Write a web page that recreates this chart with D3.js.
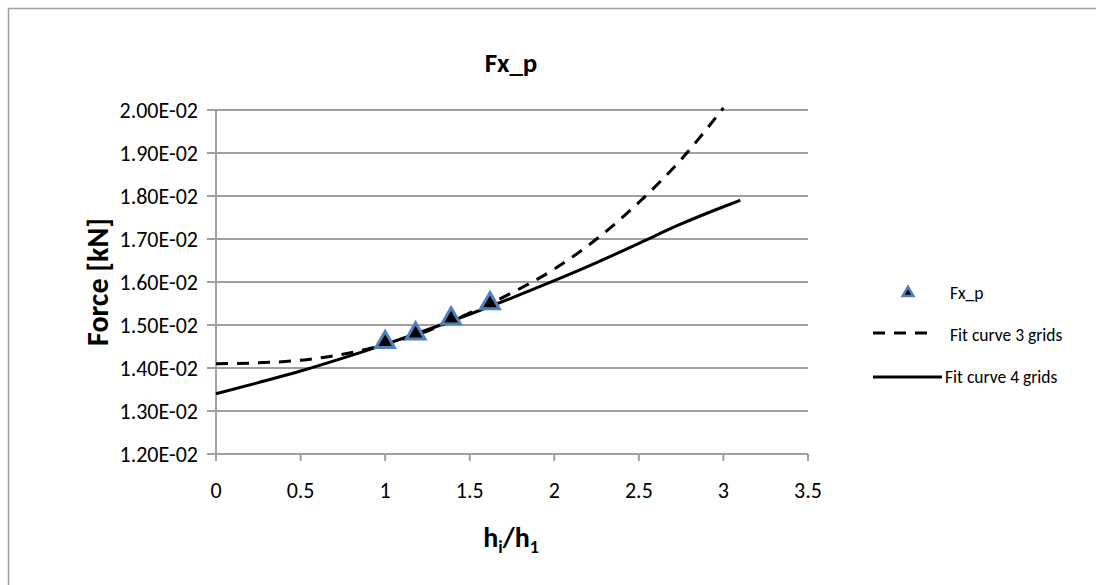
<!DOCTYPE html>
<html>
<head>
<meta charset="utf-8">
<script src="https://cdn.jsdelivr.net/npm/d3@7"></script>
<style>
  body { margin: 0; background: #fff; }
  svg { display: block; font-family: Carlito, Lato, "Open Sans", sans-serif; }
</style>
</head>
<body>
<svg id="chart" width="1096" height="585"></svg>
<script>
// measured data
const pointX = [1.0, 1.18, 1.39, 1.62];
const pointY = [0.01460, 0.01480, 0.01515, 0.01550];

const fit3X = [0, 0.25, 0.5, 0.75, 1.0, 1.25, 1.5, 1.75, 2.0, 2.25, 2.5, 2.75, 3.0];
const fit3Y = [0.01410, 0.01412, 0.01418, 0.01432, 0.01455, 0.01486, 0.01528, 0.01575, 0.01630, 0.01700, 0.01785, 0.01885, 0.02005];

const fit4X = [0, 0.25, 0.5, 0.75, 1.0, 1.25, 1.5, 1.75, 2.0, 2.25, 2.5, 2.75, 3.0, 3.1];
const fit4Y = [0.01340, 0.01366, 0.01393, 0.01423, 0.01455, 0.01489, 0.01525, 0.01563, 0.01603, 0.01645, 0.01690, 0.01735, 0.01775, 0.01790];

const xTicks = [0, 0.5, 1, 1.5, 2, 2.5, 3, 3.5];
const yTicks = [0.012, 0.013, 0.014, 0.015, 0.016, 0.017, 0.018, 0.019, 0.020];
const legendLabels = ["Fx_p", "Fit curve 3 grids", "Fit curve 4 grids"];

const svg = d3.select("#chart");
const gridColor = "#a0a0a0";

// outer chart border (runs off the right/bottom of the window)
svg.append("rect")
    .attr("x", 8.5).attr("y", 8.5)
    .attr("width", 1200).attr("height", 800)
    .attr("fill", "none")
    .attr("stroke", gridColor)
    .attr("stroke-width", 1.5);

const x = d3.scaleLinear().domain([0, 3.5]).range([216, 808]);
const y = d3.scaleLinear().domain([0.012, 0.020]).range([454, 110]);

// horizontal gridlines
svg.append("g")
    .selectAll("line")
    .data(yTicks)
    .join("line")
    .attr("x1", 207).attr("x2", x(3.5))
    .attr("y1", d => y(d)).attr("y2", d => y(d))
    .attr("stroke", gridColor)
    .attr("stroke-width", 2);

// y axis line
svg.append("line")
    .attr("x1", x(0)).attr("x2", x(0))
    .attr("y1", y(0.020)).attr("y2", y(0.012) + 7)
    .attr("stroke", gridColor)
    .attr("stroke-width", 2);

// x tick marks
svg.append("g")
    .selectAll("line")
    .data(xTicks)
    .join("line")
    .attr("x1", d => x(d)).attr("x2", d => x(d))
    .attr("y1", y(0.012)).attr("y2", y(0.012) + 7)
    .attr("stroke", gridColor)
    .attr("stroke-width", 2);

// tick labels
svg.append("g")
    .selectAll("text")
    .data(yTicks)
    .join("text")
    .attr("x", 198)
    .attr("y", d => y(d))
    .attr("dy", "0.35em")
    .attr("text-anchor", "end")
    .attr("font-size", 22)
    .text(d => d3.format(".2e")(d).replace("e-", "E-0").toUpperCase());

svg.append("g")
    .selectAll("text")
    .data(xTicks)
    .join("text")
    .attr("x", d => x(d))
    .attr("y", 498)
    .attr("text-anchor", "middle")
    .attr("font-size", 22)
    .text(d => d);

// title and axis titles
svg.append("text")
    .attr("x", 511).attr("y", 72)
    .attr("text-anchor", "middle")
    .attr("font-size", 27).attr("font-weight", "bold")
    .text("Fx_p");

const xt = svg.append("text")
    .attr("x", 511).attr("y", 547)
    .attr("text-anchor", "middle")
    .attr("font-size", 28).attr("font-weight", "bold");
xt.append("tspan").text("h");
xt.append("tspan").attr("font-size", 18).attr("dy", 6).text("i");
xt.append("tspan").attr("dy", -6).text("/h");
xt.append("tspan").attr("font-size", 18).attr("dy", 6).text("1");

svg.append("text")
    .attr("transform", `translate(108, ${(y(0.012) + y(0.020)) / 2}) rotate(-90)`)
    .attr("text-anchor", "middle")
    .attr("font-size", 30).attr("font-weight", "bold")
    .text("Force [kN]");

// fit curves
const line = d3.line()
    .x(d => x(d[0]))
    .y(d => y(d[1]))
    .curve(d3.curveMonotoneX);

svg.append("path")
    .attr("d", line(fit3X.map((v, i) => [v, fit3Y[i]])))
    .attr("fill", "none")
    .attr("stroke", "#000")
    .attr("stroke-width", 3)
    .attr("stroke-dasharray", "12,9");

svg.append("path")
    .attr("d", line(fit4X.map((v, i) => [v, fit4Y[i]])))
    .attr("fill", "none")
    .attr("stroke", "#000")
    .attr("stroke-width", 3);

// triangle markers
const tri = d3.symbol().type(d3.symbolTriangle).size(150);
svg.append("g")
    .selectAll("path")
    .data(pointX)
    .join("path")
    .attr("d", tri)
    .attr("transform", (d, i) => `translate(${x(d)}, ${y(pointY[i])})`)
    .attr("fill", "#000")
    .attr("stroke", "#4f81bd")
    .attr("stroke-width", 3);

// legend
const lg = svg.append("g");
lg.append("path")
    .attr("d", d3.symbol().type(d3.symbolTriangle).size(50))
    .attr("transform", "translate(908, 293)")
    .attr("fill", "#000")
    .attr("stroke", "#4f81bd")
    .attr("stroke-width", 2.5);
lg.append("line")
    .attr("x1", 873).attr("x2", 932)
    .attr("y1", 333).attr("y2", 333)
    .attr("stroke", "#000").attr("stroke-width", 3)
    .attr("stroke-dasharray", "12,9");
lg.append("line")
    .attr("x1", 873).attr("x2", 942)
    .attr("y1", 377).attr("y2", 377)
    .attr("stroke", "#000").attr("stroke-width", 3);
lg.selectAll("text")
    .data(legendLabels)
    .join("text")
    .attr("x", (d, i) => i === 2 ? 945 : 950)
    .attr("y", (d, i) => 293 + i * 42)
    .attr("dy", "0.35em")
    .attr("font-size", 17.5)
    .text(d => d);
</script>
</body>
</html>
